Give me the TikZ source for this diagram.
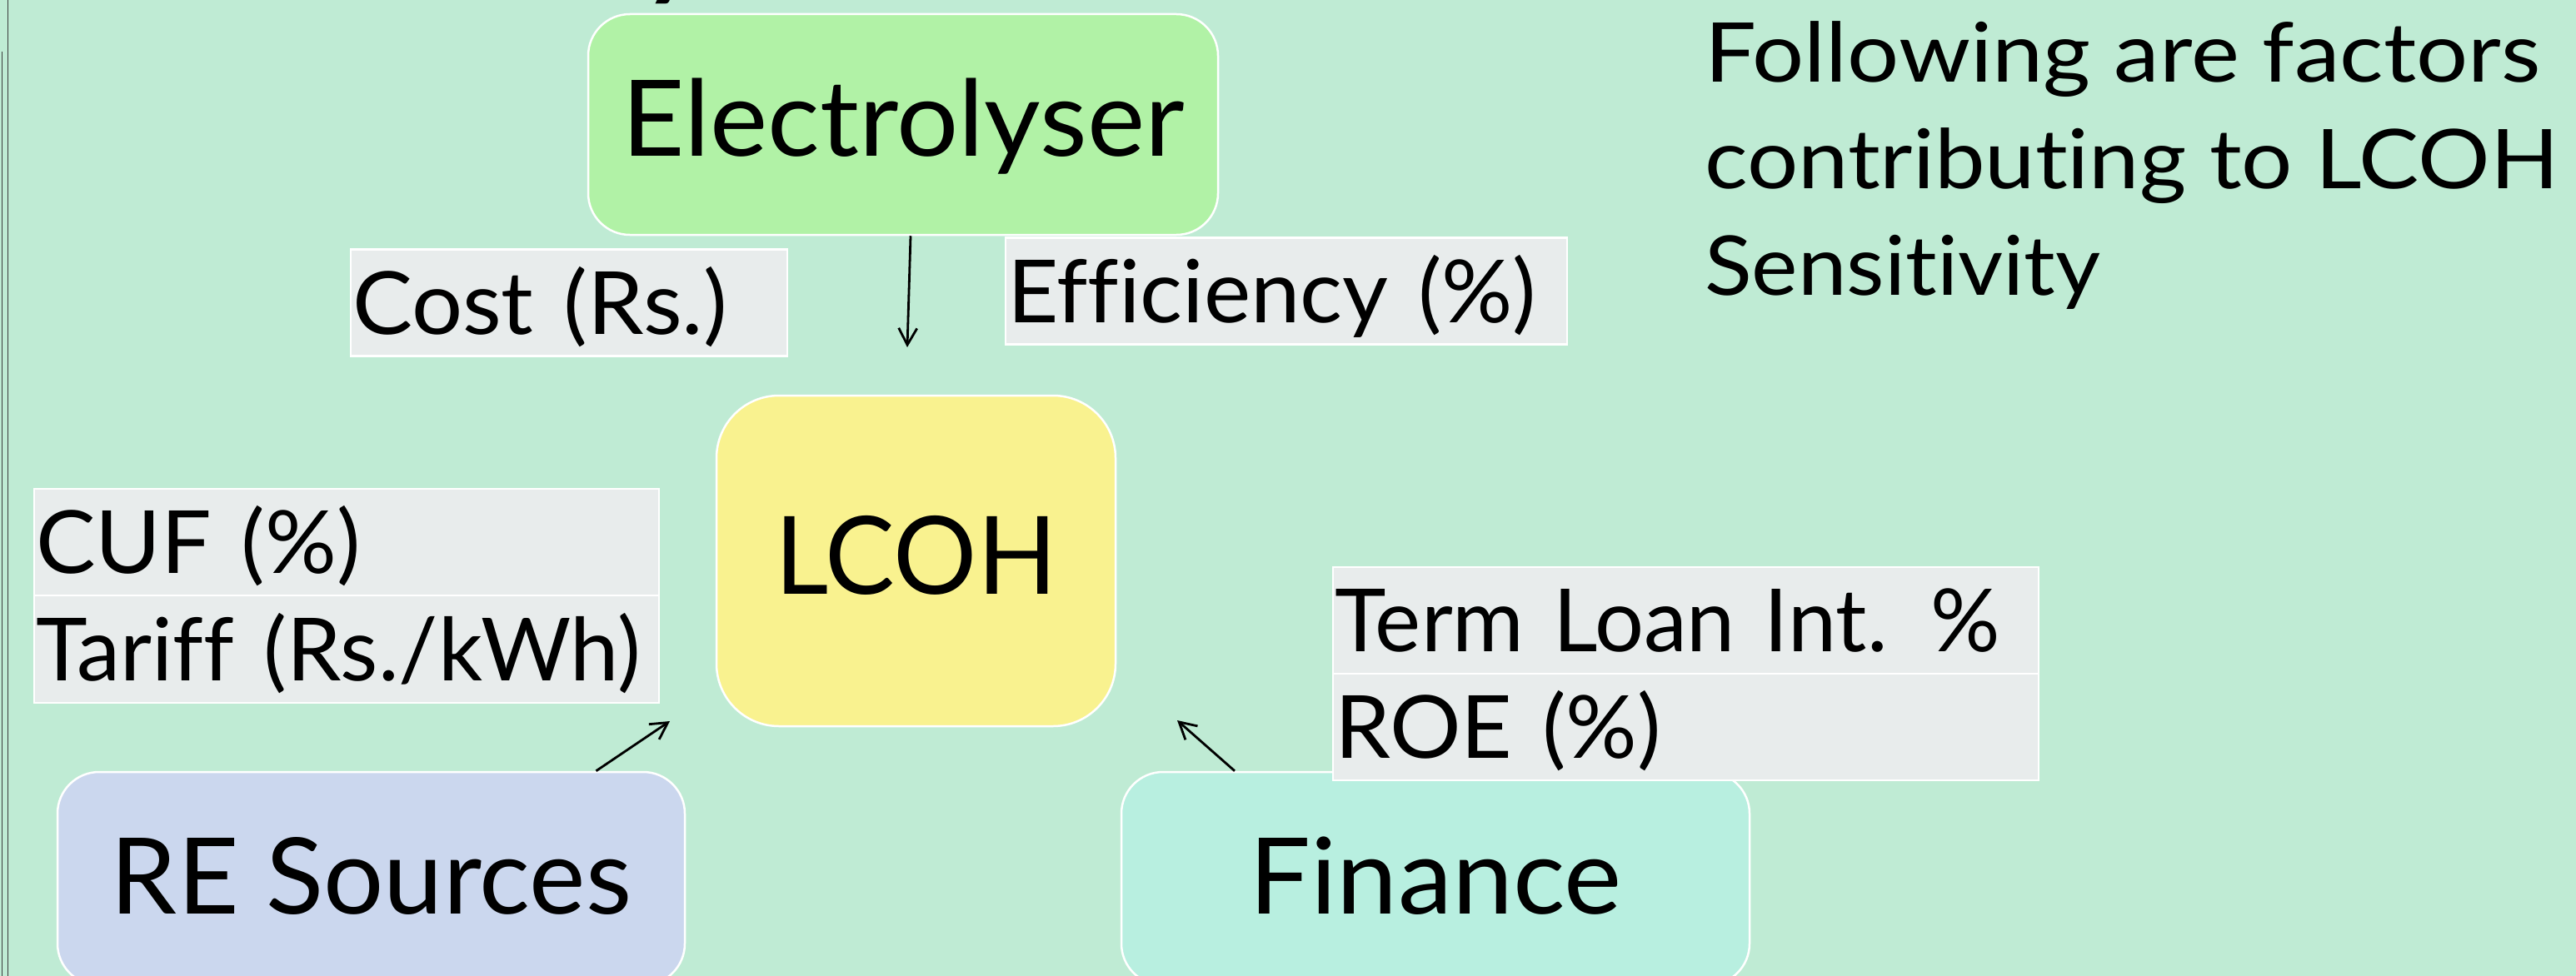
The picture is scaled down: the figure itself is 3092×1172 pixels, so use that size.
\documentclass[tikz,border=0pt]{standalone}
\usepackage{fontspec}
\usepackage{graphicx}
\setmainfont{Lato}[Ligatures=NoCommon]
\usetikzlibrary{arrows.meta,calc}
\definecolor{bgc}{RGB}{191,235,212}
\definecolor{elc}{RGB}{177,242,166}
\definecolor{lcohc}{RGB}{249,242,143}
\definecolor{rec}{RGB}{203,215,238}
\definecolor{finc}{RGB}{184,239,224}
\definecolor{lblc}{RGB}{232,236,236}
\definecolor{edgec}{RGB}{60,60,60}
\newcommand{\fw}[2]{\resizebox{#1}{\height}{#2}}
\begin{document}
\begin{tikzpicture}[x=1pt,y=-1pt,
  bigbox/.style={draw=white, line width=2.5pt, inner sep=0pt,
    font=\fontsize{127}{150}\selectfont},
  lbl/.style={draw=white, line width=2.5pt, fill=lblc, inner xsep=2pt, inner ysep=0pt,
    minimum height=128pt, text height=75pt, text depth=0pt, align=left,
    font=\fontsize{104.7}{120}\selectfont},
  arr/.style={line width=2.8pt, -{Straight Barb[length=20pt,width=22pt]}}]
\fill[bgc] (0,0) rectangle (3092,1172);
\useasboundingbox (0,0) rectangle (3092,1172);
% left edge double rule
\draw[line width=1.5pt, edgec] (9.5,0) -- (9.5,1172);
\draw[line width=1.5pt, edgec] (2.5,62) -- (2.5,1172);
% fragment of a title above the picture
\node[anchor=base west, inner sep=0pt, font=\fontsize{127}{150}\selectfont\bfseries] (frag) at (772,-16) {y};
% main boxes
\node[bigbox, fill=elc, rounded corners=50pt, minimum width=756pt, minimum height=265pt,
  text height=90pt, text depth=15pt] (el) at (1084,149.5) {\fw{675pt}{Electrolyser}};
\node[bigbox, fill=lcohc, rounded corners=75pt, minimum width=479pt, minimum height=397pt,
  text height=93pt, text depth=14pt, font=\fontsize{130}{150}\selectfont] (lcoh) at (1099.5,673.5) {\fw{338pt}{LCOH}};
\node[bigbox, fill=rec, rounded corners=50pt, minimum width=753pt, minimum height=256pt,
  text height=91pt, text depth=7pt] (re) at (445.5,1055) {\fw{625pt}{RE Sources}};
\node[bigbox, fill=finc, rounded corners=50pt, minimum width=754pt, minimum height=256pt,
  text height=91pt, text depth=7pt] (fin) at (1723,1055) {\fw{447pt}{Finance}};
% factor labels
\node[lbl, text width=520pt] (cost) at (683,363.5) {\fw{450pt}{Cost (Rs.)}};
\node[lbl, text width=670pt] (eff) at (1544,349.5) {\fw{635pt}{Efficiency (\%)}};
\node[lbl, text width=746pt] (cuf) at (416,651) {\fw{390pt}{CUF (\%)}};
\node[lbl, text width=746pt, minimum height=129pt] (tariff) at (416,779.5) {\fw{726pt}{Tariff (Rs./kWh)}};
\node[lbl, text width=843pt] (term) at (2023.5,745) {\fw{799pt}{Term Loan Int. \%}};
\node[lbl, text width=843pt] (roe) at (2023.5,873) {\fw{392pt}{ROE (\%)}};
% connectors
\coordinate (elTip) at (1089,417);
\coordinate (reTip) at (804,866);
\coordinate (finTip) at (1413,865);
\draw[arr] ($(el.south)+(9,0)$) -- (elTip);
\draw[arr] ($(re.north)+(270,0)$) -- (reTip);
\draw[arr] ($(fin.north)+(-241,0)$) -- (finTip);
% note
\node[anchor=base west, inner sep=0pt, font=\fontsize{99}{128}\selectfont] (note) at (2046,99)
  {\vtop{\hbox{\fw{1003pt}{Following are factors}}\hbox{\fw{1025pt}{contributing to LCOH}}\hbox{\fw{475pt}{Sensitivity}}}};
\end{tikzpicture}
\end{document}
